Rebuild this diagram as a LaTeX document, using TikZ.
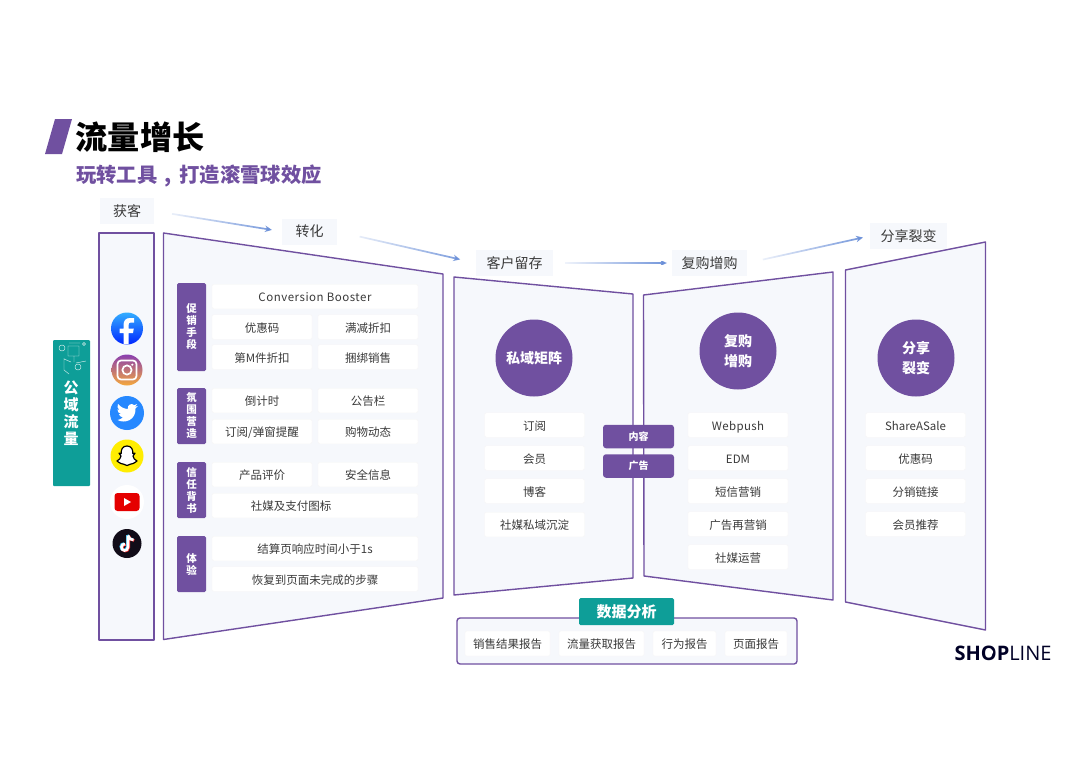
\documentclass[tikz,border=0pt]{standalone}
\usepackage{fontspec}
\setmainfont{Noto Sans CJK SC}
\newfontfamily\logofont{Open Sans}
\usetikzlibrary{arrows.meta,fadings}
\definecolor{violet}{HTML}{7050A0}
\definecolor{teal}{HTML}{0E9E98}
\definecolor{panelbg}{HTML}{F6F8FC}
\definecolor{ink}{HTML}{3A3A3A}
\definecolor{flowblue}{HTML}{6A8FD8}
\definecolor{instatop}{HTML}{8A3FB0}
\definecolor{instamid}{HTML}{E8426F}
\definecolor{instabot}{HTML}{F5A83C}
\begin{document}
\begin{tikzpicture}
            [x=1pt,y=-1pt,
            panel/.style={draw=violet,line width=1.4pt,fill=panelbg,line join=round},
            stage/.style={rectangle,fill=panelbg,text=ink,font=\fontsize{14}{16}\selectfont,inner sep=0pt,minimum height=26pt},
            flow/.style={draw=flowblue,line width=1.7pt,-{Stealth[length=7pt,width=6.5pt]},path fading=west},
            cell/.style={rectangle,rounded corners=1.5pt,fill=white,draw=black!3,text=ink,font=\fontsize{11.5}{14}\selectfont,inner sep=0pt,text height=11.4pt,text depth=1pt,minimum width=100pt,minimum height=24.5pt},
            wide/.style={cell,minimum width=206pt},
            tab/.style={rectangle,rounded corners=1.5pt,fill=violet,text=white,font=\fontsize{10.5}{12}\selectfont\bfseries,align=center,inner sep=0pt,minimum width=29pt},
            hub/.style={circle,fill=violet,text=white,font=\fontsize{14}{20}\selectfont\bfseries,align=center,inner sep=0pt,minimum size=77pt},
            pill/.style={rectangle,rounded corners=3pt,fill=violet,text=white,font=\fontsize{10}{12}\selectfont\bfseries,inner sep=0pt,minimum width=71pt,minimum height=23.5pt},
            report/.style={cell,minimum height=25pt}]
            \useasboundingbox (0,0) rectangle (1080,763);
            % title
            \fill[violet] (55,119) -- (72,119) -- (62,154) -- (45,154) -- cycle;
            \node[text=black,font=\fontsize{32.2}{36}\selectfont\bfseries,inner sep=0pt,anchor=west] (title) at (75.5,137.5) {流量增长};
            \node[text=violet,font=\fontsize{20.3}{24}\selectfont\bfseries,inner sep=0pt,anchor=west] (subtitle) at (76,176) {玩转工具\hspace{7.5pt},\hspace{7.5pt}打造滚雪球效应};
            % panels
            \draw[panel] (99,233) rectangle (154,640);
            \draw[panel] (163.5,233) -- (443,274) -- (443,598) -- (163.5,639.5) -- cycle;
            \draw[panel] (454,277) -- (633,294) -- (633,578) -- (454,595) -- cycle;
            \draw[panel] (643.5,295) -- (833,272) -- (833,600) -- (644,576) -- cycle;
            \draw[panel] (845.5,270) -- (985.5,242) -- (985.5,630) -- (845.5,602) -- cycle;
            % stages
            \node[stage,minimum width=54pt] (huoke) at (127,211) {获客};
            \node[stage,minimum width=55pt] (zhuanhua) at (309.5,231.5) {转化};
            \node[stage,minimum width=77pt] (liucun) at (514.5,263) {客户留存};
            \node[stage,minimum width=75pt] (fugou) at (709.5,263) {复购增购};
            \node[stage,minimum width=77pt] (fenxiang) at (908.5,236) {分享裂变};
            \draw[flow,shorten <=18pt,shorten >=10pt] (huoke.east) -- (zhuanhua.west);
            \draw[flow,shorten <=23pt,shorten >=16pt] (zhuanhua.east) -- (liucun.west);
            \draw[flow,shorten <=12pt,shorten >=5pt] (liucun.east) -- (fugou.west);
            \draw[flow,shorten <=16pt,shorten >=7pt] (fugou.east) -- (fenxiang.west);
            % public traffic
            \node[rectangle,rounded corners=1pt,fill=teal,minimum width=37pt,minimum height=146pt,inner sep=0pt] (gongyu) at (71.5,413) {};
            \node[text=white,font=\fontsize{15}{17}\selectfont\bfseries,align=center,inner sep=0pt] (gongyutext) at (71,413.5) {公\\域\\流\\量};
            \draw[white!85!teal,line width=.45pt] (62,348) circle (3) (68,346) rectangle (79,356) (69,343) -- (80,343) (64,358) -- (64,370) -- (69,374) (64,359) -- (71,362) (76,363) -- (86,361) (78,367) circle (3) (84,344) circle (1.5) (74,356) -- (74,362);
            % social icons
            \begin{scope}[shift={(127,328.5)}]
                \shade[top color=cyan!60!blue!80,bottom color=blue!85!cyan] (0,0) circle (16);
                \fill[white] (-3.5,15.6) -- (-3.5,4.5) -- (-7.5,4.5) -- (-7.5,0) -- (-3.5,0) -- (-3.5,-3.5) .. controls (-3.5,-8) and (-1,-10.5) .. (3,-10.5) -- (7,-10.5) -- (7,-6) -- (4,-6) .. controls (2.5,-6) and (1.5,-5.5) .. (1.5,-3.5) -- (1.5,0) -- (6.8,0) -- (6,4.5) -- (1.5,4.5) -- (1.5,15.6) -- cycle;
            \end{scope}
            \begin{scope}[shift={(127,370)}]
                \shade[top color=instatop,middle color=instamid,bottom color=instabot] (0,0) circle (15.5);
                \draw[white,line width=1.7pt,rounded corners=3.5pt] (-9.5,-9.5) rectangle (9.5,9.5);
                \draw[white,line width=1.7pt] (0,0) circle (4.6);
                \fill[white] (5.3,-5.3) circle (1.2);
            \end{scope}
            \begin{scope}[shift={(127,413)}]
                \fill[blue!55!cyan!85] (0,0) circle (17);
                \fill[white] (-9.5,7) .. controls (-2,11) and (9,7) .. (8.5,-4.5) .. controls (9.5,-5.2) and (10.2,-6) .. (10.8,-7) .. controls (9.8,-6.5) and (9,-6.3) .. (8,-6.2) .. controls (9,-6.8) and (9.8,-7.7) .. (10.2,-9) .. controls (9.2,-8.4) and (8.2,-8) .. (7.2,-7.8) .. controls (5,-10.2) and (0.2,-8.8) .. (0.8,-4) .. controls (-3,-4.2) and (-6.5,-6) .. (-9,-9) .. controls (-10.2,-7) and (-9.5,-4.2) .. (-7.5,-3) .. controls (-8.3,-3) and (-9,-3.2) .. (-9.6,-3.6) .. controls (-9.6,-1.2) and (-8,0.5) .. (-6,1) .. controls (-6.7,1.2) and (-7.4,1.2) .. (-8.2,1.1) .. controls (-7.6,3) and (-5.8,4.2) .. (-4,4.3) .. controls (-5.5,5.8) and (-7.5,6.8) .. (-9.5,7) -- cycle;
            \end{scope}
            \begin{scope}[shift={(127,456)}]
                \fill[yellow!95!orange] (0,0) circle (16.5);
                \draw[black,fill=white,line width=1.2pt,line join=round] (0,-10) .. controls (-4.5,-10) and (-6,-6.5) .. (-5.8,-2.5) -- (-8,-2.8) -- (-6,0) .. controls (-6,2) and (-8,4) .. (-10,5) .. controls (-9,6.5) and (-7,6.5) .. (-6,7.5) .. controls (-4,7) and (-2,9.5) .. (0,9.5) .. controls (2,9.5) and (4,7) .. (6,7.5) .. controls (7,6.5) and (9,6.5) .. (10,5) .. controls (8,4) and (6,2) .. (6,0) -- (8,-2.8) -- (5.8,-2.5) .. controls (6,-6.5) and (4.5,-10) .. (0,-10) -- cycle;
            \end{scope}
            \begin{scope}[shift={(127,502)}]
                \fill[white] (0,0) circle (17);
                \fill[red!90!black,rounded corners=3pt] (-12.5,-9) rectangle (12.5,9);
                \fill[white] (-3,-4) -- (4,0) -- (-3,4) -- cycle;
            \end{scope}
            \begin{scope}[shift={(127,543.5)}]
                \fill[black!85!violet] (0,0) circle (14.5);
                \draw[cyan!80,line width=2.6pt,shift={(-.7,-.5)}] (1,-8) -- (1,3.5) .. controls (1,6) and (-1,7) .. (-2.5,7) .. controls (-4.5,7) and (-5.5,5.5) .. (-5.5,3.5) .. controls (-5.5,1.5) and (-4,.5) .. (-2,.5) (1,-8) .. controls (1.5,-5) and (4,-3.5) .. (6.5,-3.5);
                \draw[red!80,line width=2.6pt,shift={(.7,.5)}] (1,-8) -- (1,3.5) .. controls (1,6) and (-1,7) .. (-2.5,7) .. controls (-4.5,7) and (-5.5,5.5) .. (-5.5,3.5) .. controls (-5.5,1.5) and (-4,.5) .. (-2,.5) (1,-8) .. controls (1.5,-5) and (4,-3.5) .. (6.5,-3.5);
                \draw[white,line width=2.6pt] (1,-8) -- (1,3.5) .. controls (1,6) and (-1,7) .. (-2.5,7) .. controls (-4.5,7) and (-5.5,5.5) .. (-5.5,3.5) .. controls (-5.5,1.5) and (-4,.5) .. (-2,.5) (1,-8) .. controls (1.5,-5) and (4,-3.5) .. (6.5,-3.5);
            \end{scope}
            % conversion
            \node[tab,minimum height=88pt] (cuxiao) at (191.5,327) {促\\销\\手\\段};
            \node[wide] (booster) at (315,296.5) {\addfontfeature{LetterSpace=4.5}Conversion Booster};
            \node[cell] (youhui) at (262,327) {优惠码};
            \node[cell] (manjian) at (368,327) {满减折扣};
            \node[cell] (dimjian) at (262,357) {第M件折扣};
            \node[cell] (kunbang) at (368,357) {捆绑销售};
            \node[tab,minimum height=56pt] (fenwei) at (191.5,416) {氛\\围\\营\\造};
            \node[cell] (daojishi) at (262,400.5) {倒计时};
            \node[cell] (gonggao) at (368,400.5) {公告栏};
            \node[cell] (dingyue) at (262,431.5) {订阅/弹窗提醒};
            \node[cell] (gouwu) at (368,431.5) {购物动态};
            \node[tab,minimum height=56pt] (xinren) at (191.5,490) {信\\任\\背\\书};
            \node[cell] (pingjia) at (262,474.5) {产品评价};
            \node[cell] (anquan) at (368,474.5) {安全信息};
            \node[wide] (shemei) at (315,505.5) {\hspace*{-48pt}社媒及支付图标};
            \node[tab,minimum height=56pt] (tiyan) at (191.5,564) {体\\验};
            \node[wide] (jiesuan) at (315,548.5) {结算页响应时间小于1s};
            \node[wide] (huifu) at (315,579) {恢复到页面未完成的步骤};
            % private matrix
            \node[hub] (siyu) at (534,358) {私域矩阵};
            \node[cell] (pdingyue) at (534.5,425) {订阅};
            \node[cell] (huiyuan) at (534.5,458) {会员};
            \node[cell] (boke) at (534.5,491) {博客};
            \node[cell] (chendian) at (534.5,524.5) {社媒私域沉淀};
            % repurchase
            \node[hub] (fugouhub) at (738,351) {复购\\增购};
            \node[cell] (webpush) at (738,425) {\addfontfeature{LetterSpace=3}Webpush};
            \node[cell] (edm) at (738,458) {EDM};
            \node[cell] (duanxin) at (738,491) {短信营销};
            \node[cell] (zaiying) at (738,524) {广告再营销};
            \node[cell] (yunying) at (738,557) {社媒运营};
            % share
            \node[hub] (fenxianghub) at (916,358) {分享\\裂变};
            \node[cell] (shareasale) at (915.5,425) {ShareASale};
            \node[cell] (syouhui) at (915.5,458) {优惠码};
            \node[cell] (fenxiao) at (915.5,491) {分销链接};
            \node[cell] (tuijian) at (915.5,524) {会员推荐};
            \node[pill] (neirong) at (638.5,436.5) {内容};
            \node[pill] (guanggao) at (638.5,466) {广告};
            % data
            \draw[panel,rounded corners=3pt] (457,618) rectangle (797,664);
            \node[rectangle,rounded corners=1.5pt,fill=teal,text=white,font=\fontsize{15}{17}\selectfont\bfseries,inner sep=0pt,minimum width=95pt,minimum height=27pt] (shuju) at (626.5,611.5) {数据分析};
            \node[report,minimum width=85pt] (xiaoshou) at (507.5,643.5) {销售结果报告};
            \node[report,minimum width=85pt] (liuliang) at (601.5,643.5) {流量获取报告};
            \node[report,minimum width=63pt] (xingwei) at (684.5,643.5) {行为报告};
            \node[report,minimum width=62pt] (yemian) at (756,643.5) {页面报告};
            % logo
            \node[text=black!85!blue,font=\fontsize{20}{24}\selectfont\logofont,inner sep=0pt] (logo) at (1003,653) {\textbf{SHOP}LINE};
            \fill[white] (990.5,652) circle (2.6);
        \end{tikzpicture}
\end{document}
